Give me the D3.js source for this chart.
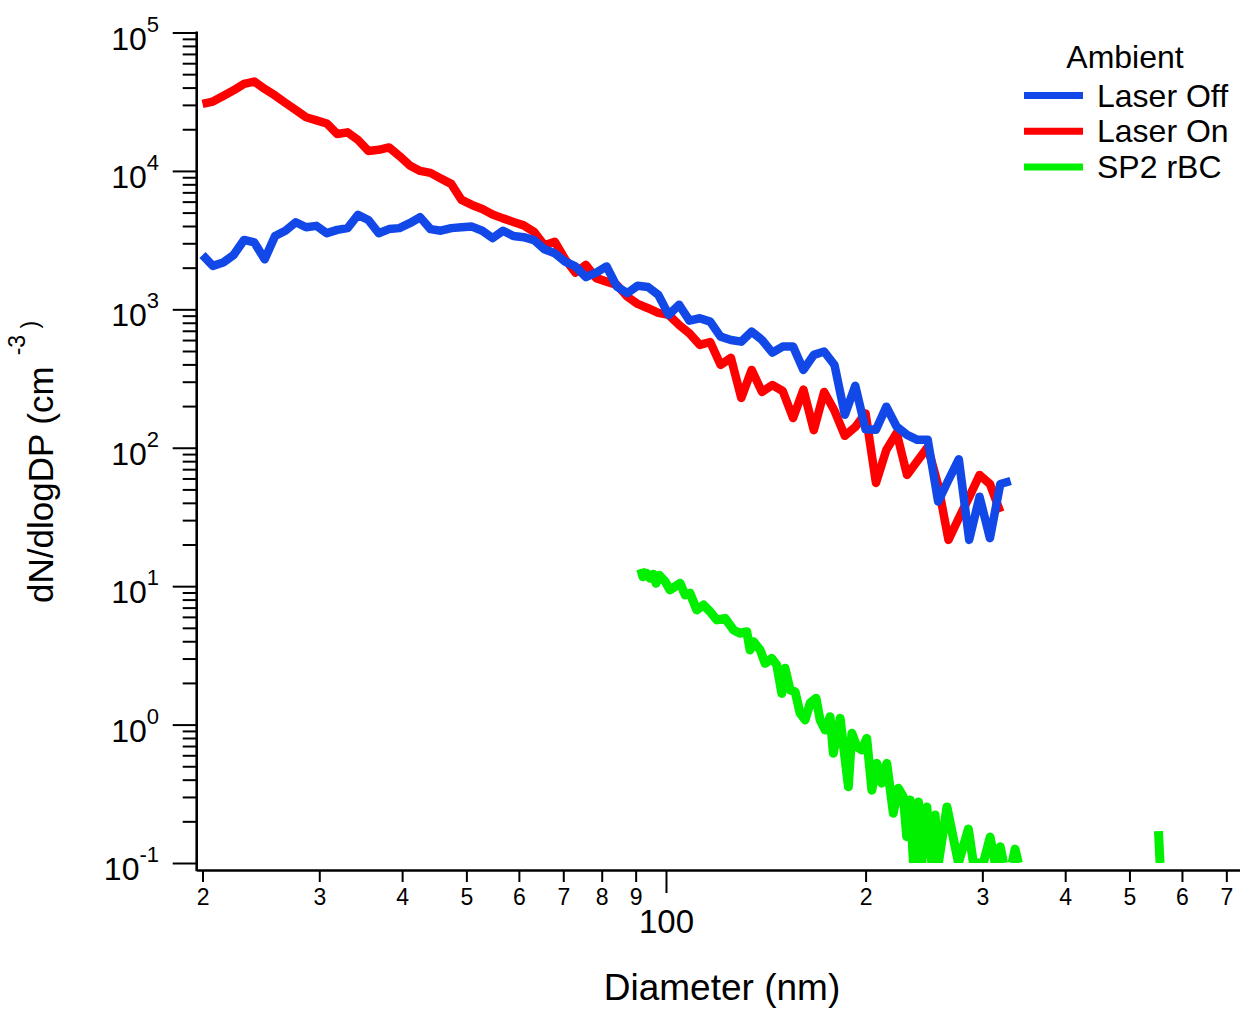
<!DOCTYPE html>
<html>
<head>
<meta charset="utf-8">
<script src="https://cdn.jsdelivr.net/npm/d3@7"></script>
<style>
  body { margin: 0; background: #fff; }
  svg { font-family: Arial, "Liberation Sans", sans-serif; }
</style>
</head>
<body>
<div id="chart"></div>
<script>
// ---- data ----

// SMPS bin diameters (nm), shared by the two ambient scans
var smpsDiam = [
  20.00, 20.73, 21.49, 22.28, 23.10, 23.94, 24.82, 25.73, 26.67, 27.65,
  28.66, 29.71, 30.80, 31.93, 33.10, 34.31, 35.57, 36.87, 38.22, 39.62,
  41.07, 42.58, 44.14, 45.75, 47.43, 49.17, 50.97, 52.84, 54.77, 56.78,
  58.86, 61.01, 63.25, 65.56, 67.96, 70.45, 73.03, 75.71, 78.48, 81.36,
  84.34, 87.43, 90.63, 93.95, 97.39, 100.96, 104.66, 108.49, 112.47, 116.59,
  120.86, 125.29, 129.88, 134.64, 139.57, 144.68, 149.98, 155.48, 161.17, 167.08,
  173.20, 179.55, 186.12, 192.94, 200.00, 207.33, 214.92, 222.80, 230.96, 239.42,
  248.19, 257.29, 266.71, 276.48, 286.61, 297.11, 308.00, 319.28, 330.98
];

// Laser Off (blue)
var laserOff = [
  2470, 2060, 2180, 2470, 3170, 3040, 2300, 3390, 3700, 4260,
  3920, 4010, 3550, 3750, 3860, 4810, 4420, 3550, 3800, 3860,
  4190, 4630, 3800, 3700, 3860, 3920, 3960, 3700, 3270, 3700,
  3390, 3320, 3160, 2720, 2540, 2210, 2040, 1710, 1840, 2040,
  1460, 1310, 1480, 1450, 1270, 912, 1080, 829, 862, 815,
  635, 601, 584, 690, 601, 487, 538, 538, 365, 469,
  496, 396, 173, 280, 136, 135, 198, 142, 124, 114,
  114, 40.8, 58.5, 82.6, 21.6, 44.3, 22.2, 54.7, 57.5
];

// Laser On (red), one bin shorter
var laserOn = [
  30500, 31700, 34800, 38200, 42500, 44200, 39100, 35100, 31000, 27500,
  24400, 23200, 22000, 18500, 19000, 16750, 13950, 14200, 14790, 12830,
  10960, 10000, 9680, 8830, 8060, 6170, 5680, 5310, 4850, 4540,
  4280, 4040, 3625, 2900, 3080, 2300, 1842, 2094, 1680, 1585,
  1500, 1236, 1094, 1019, 942, 912, 770, 670, 553, 581,
  397, 446, 229, 365, 253, 284, 257, 164, 263, 134,
  253, 185, 122, 141, 177, 55.7, 96.4, 128, 63.6, 80.3,
  101, 53.8, 21.6, 31.1, 44, 63.6, 54.7, 34.4
];

// SP2 rBC (green); null = no value (gap in the trace)
var sp2Diam = [
  91.6, 92.3, 93.5, 94.6, 95.7, 96.6, 97.7, 99.7, 101.4, 105.0,
  106.9, 108.7, 111.3, 113.9, 116.6, 119.3, 122.8, 126.4, 129.3, 132.4,
  133.9, 135.5, 138.7, 141.1, 144.4, 146.9, 149.5, 151.2, 153.9, 156.6,
  159.3, 162.1, 165.0, 168.4, 170.8, 173.8, 176.8, 178.8, 183.1, 188.4,
  190.7, 194.0, 197.4, 200.8, 204.4, 208.0, 211.6, 215.3, 220.2, 224.1,
  228.0, 230.7, 233.4, 236.1, 240.3, 243.1, 247.4, 251.7, 254.6, 257.6,
  265.3, 276.1, 285.8, 290.8, 301.1, 308.2, 313.6, 315.0, 316.4, 319.2,
  322.9, 328.0, 332.7, 336.1, 340.0, 450.0, 553.0, 556.0
];
var sp2Values = [
  13.3, 11.7, 12.4, 11.4, 12.2, 10.5, 12.0, 10.8, 9.39, 10.5,
  8.64, 8.89, 6.73, 7.31, 6.54, 5.70, 5.86, 4.83, 4.57, 4.69,
  3.46, 3.97, 3.46, 2.77, 3.01, 2.70, 1.68, 2.55, 1.78, 1.73,
  1.21, 1.08, 1.43, 1.55, 1.08, 0.914, 1.14, 0.621, 1.11, 0.356,
  0.865, 0.692, 0.655, 0.796, 0.336, 0.525, 0.377, 0.525, 0.229, 0.347,
  0.301, 0.155, 0.285, 0.1, 0.276, 0.1, 0.254, 0.1, 0.222, 0.1,
  0.254, 0.1, 0.176, 0.1, 0.1, 0.154, 0.1, null, 0.1, 0.131,
  0.1, null, 0.1, 0.126, 0.1, null, 0.17, 0.1
];

// axis ticks and labels
var xMinorTicks = [20, 30, 40, 50, 60, 70, 80, 90, 200, 300, 400, 500, 600, 700];
var xMinorLabels = ["2", "3", "4", "5", "6", "7", "8", "9", "2", "3", "4", "5", "6", "7"];
var xMajorTicks = [100];
var xMajorLabels = ["100"];
var yDecades = [0.1, 1, 10, 100, 1000, 10000, 100000];
var yExponents = ["-1", "0", "1", "2", "3", "4", "5"];

var legendTitle = "Ambient";
var seriesNames = ["Laser Off", "Laser On", "SP2 rBC"];
var seriesColors = ["#1248e8", "#ff0000", "#00f000"];

// ---- layout ----
var width = 1240;
var height = 1010;
var plotLeft = 196.7, plotRight = 1240;
var plotTop = 32.5, plotBottom = 863;
var xAxisY = 870;   // bottom axis sits a little below the 0.1 level

var svg = d3.select("#chart")
  .append("svg")
  .attr("width", width)
  .attr("height", height);

var xScale = d3.scaleLog().domain([19.6, 734]).range([plotLeft, plotRight]);
var yScale = d3.scaleLog().domain([0.1, 1e5]).range([plotBottom, plotTop]);

// clip for the traces
svg.append("defs").append("clipPath").attr("id", "plotClip")
  .append("rect")
  .attr("x", plotLeft)
  .attr("y", plotTop - 10)
  .attr("width", plotRight - plotLeft)
  .attr("height", plotBottom - plotTop + 10);

// ---- bottom axis ----
var xMinorAxis = d3.axisBottom(xScale)
  .tickValues(xMinorTicks)
  .tickSize(12)
  .tickSizeOuter(0)
  .tickPadding(7)
  .tickFormat(function(d, i) { return xMinorLabels[i]; });

var gx = svg.append("g")
  .attr("transform", "translate(0," + xAxisY + ")")
  .call(xMinorAxis);
gx.select(".domain").attr("stroke-width", 2.6);
gx.selectAll(".tick line").attr("stroke-width", 2);
gx.selectAll(".tick text").attr("font-size", 23).attr("fill", "#000");

var xMajorAxis = d3.axisBottom(xScale)
  .tickValues(xMajorTicks)
  .tickSize(23)
  .tickPadding(17)
  .tickFormat(function(d, i) { return xMajorLabels[i]; });

var gx2 = svg.append("g")
  .attr("transform", "translate(0," + xAxisY + ")")
  .call(xMajorAxis);
gx2.select(".domain").remove();
gx2.selectAll(".tick line").attr("stroke-width", 2);
gx2.selectAll(".tick text").attr("font-size", 33).attr("fill", "#000");

// ---- left axis ----
var yMinor = yScale.ticks().filter(function(v) {
  return yDecades.indexOf(v) < 0;
});
var gyMinor = svg.append("g")
  .attr("transform", "translate(" + plotLeft + ",0)")
  .call(d3.axisLeft(yScale).tickValues(yMinor).tickSize(14).tickFormat(""));
gyMinor.select(".domain").remove();
gyMinor.selectAll(".tick line").attr("stroke-width", 2);

var gyMajor = svg.append("g")
  .attr("transform", "translate(" + plotLeft + ",0)")
  .call(d3.axisLeft(yScale).tickValues(yDecades).tickSize(24).tickFormat(""));
gyMajor.select(".domain").remove();
gyMajor.selectAll(".tick line").attr("stroke-width", 2);

svg.append("line")
  .attr("x1", plotLeft).attr("x2", plotLeft)
  .attr("y1", yScale(1e5) - 1).attr("y2", xAxisY + 1.3)
  .attr("stroke", "#000")
  .attr("stroke-width", 2.6);

// decade labels as 10 with a superscript
var yLabels = svg.append("g").selectAll("text")
  .data(yDecades)
  .enter()
  .append("text")
  .attr("x", 159)
  .attr("y", function(d) { return yScale(d) + 17; })
  .attr("text-anchor", "end")
  .attr("font-size", 32)
  .attr("fill", "#000");
yLabels.append("tspan").text("10");
yLabels.append("tspan")
  .attr("dy", -18)
  .attr("font-size", 22)
  .text(function(d, i) { return yExponents[i]; });

// ---- axis titles ----
svg.append("text")
  .attr("x", 722)
  .attr("y", 1000)
  .attr("text-anchor", "middle")
  .attr("font-size", 37)
  .text("Diameter (nm)");

var yTitle = svg.append("text")
  .attr("transform", "translate(53,603) rotate(-90)")
  .attr("font-size", 35);
yTitle.append("tspan").text("dN/dlogDP (cm");
yTitle.append("tspan").attr("dx", 11).attr("dy", -28).attr("font-size", 23).text("-3");
yTitle.append("tspan").attr("dy", 13).attr("font-size", 23).text(" )");

// ---- traces ----
var line = d3.line()
  .defined(function(d) { return d.v !== null; })
  .x(function(d) { return xScale(d.d); })
  .y(function(d) { return yScale(d.v); });

var offData = laserOff.map(function(v, i) { return { d: smpsDiam[i], v: v }; });
var onData = laserOn.map(function(v, i) { return { d: smpsDiam[i], v: v }; });
var sp2Data = sp2Values.map(function(v, i) { return { d: sp2Diam[i], v: v }; });

var traces = svg.append("g").attr("clip-path", "url(#plotClip)");

traces.append("path")
  .datum(sp2Data)
  .attr("d", line)
  .attr("fill", "none")
  .attr("stroke", seriesColors[2])
  .attr("stroke-width", 9)
  .attr("stroke-linejoin", "round");

traces.append("path")
  .datum(onData)
  .attr("d", line)
  .attr("fill", "none")
  .attr("stroke", seriesColors[1])
  .attr("stroke-width", 8.5)
  .attr("stroke-linejoin", "round");

traces.append("path")
  .datum(offData)
  .attr("d", line)
  .attr("fill", "none")
  .attr("stroke", seriesColors[0])
  .attr("stroke-width", 8.5)
  .attr("stroke-linejoin", "round");

// ---- legend ----
var legend = svg.append("g");
legend.append("text")
  .attr("x", 1125)
  .attr("y", 68)
  .attr("text-anchor", "middle")
  .attr("font-size", 32)
  .text(legendTitle);

var rows = legend.selectAll("g.row")
  .data(seriesNames)
  .enter()
  .append("g")
  .attr("class", "row")
  .attr("transform", function(d, i) { return "translate(0," + (95.5 + i * 35.7) + ")"; });

rows.append("line")
  .attr("x1", 1024).attr("x2", 1083)
  .attr("stroke", function(d, i) { return seriesColors[i]; })
  .attr("stroke-width", 7);

rows.append("text")
  .attr("x", 1097)
  .attr("y", 11)
  .attr("font-size", 32)
  .text(function(d) { return d; });
</script>
</body>
</html>
